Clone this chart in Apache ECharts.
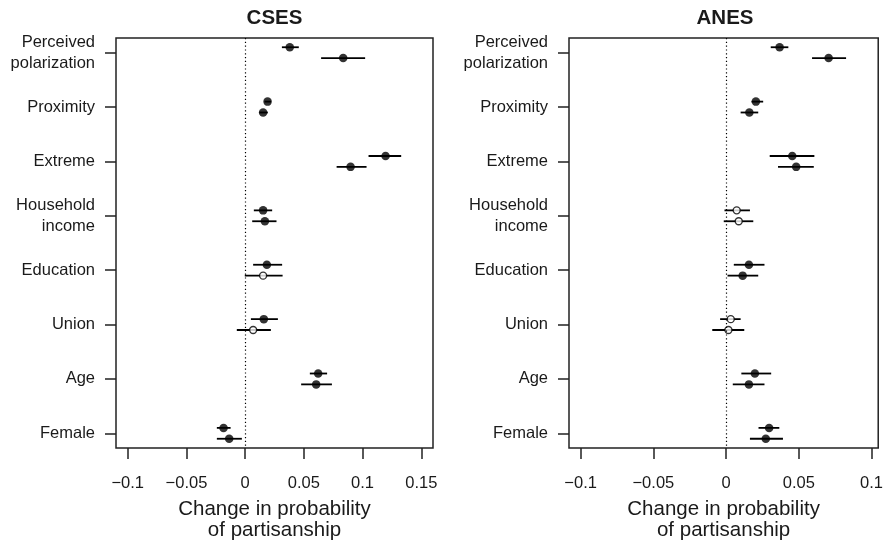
<!DOCTYPE html>
<html>
<head>
<meta charset="utf-8">
<script src="https://cdn.jsdelivr.net/npm/echarts@6/dist/echarts.min.js"></script>
<style>
html,body{margin:0;padding:0;background:#fff;}
#chart{width:886px;height:547px;}
</style>
</head>
<body>
<div id="chart"></div>
<script>
// ---- data ----
const categories = ["Perceived\npolarization", "Proximity", "Extreme", "Household\nincome", "Education", "Union", "Age", "Female"];
const panelTitles = ["CSES", "ANES"];
const xTicksCSES = [-0.1, -0.05, 0, 0.05, 0.1, 0.15];
const xTicksANES = [-0.1, -0.05, 0, 0.05, 0.1];
const axisTitle = "Change in probability\nof partisanship";

// CSES: upper estimate (first model) and lower estimate (second model)
const csesTopEst = [0.038, 0.0191, 0.1196, 0.0153, 0.0185, 0.0159, 0.0622, -0.0184];
const csesTopLo  = [0.0313, 0.0165, 0.1051, 0.0074, 0.0068, 0.0049, 0.0551, -0.0241];
const csesTopHi  = [0.0457, 0.0220, 0.1329, 0.0230, 0.0315, 0.0279, 0.0698, -0.0124];
const csesTopSig = [1, 1, 1, 1, 1, 1, 1, 1];
const csesBotEst = [0.0835, 0.0153, 0.0898, 0.0168, 0.0153, 0.0068, 0.0605, -0.0136];
const csesBotLo  = [0.0647, 0.0120, 0.0779, 0.0060, -0.0003, -0.0071, 0.0477, -0.0241];
const csesBotHi  = [0.1022, 0.0193, 0.1034, 0.0267, 0.0319, 0.0219, 0.0739, -0.0028];
const csesBotSig = [1, 1, 1, 1, 0, 0, 1, 1];

// ANES
const anesTopEst = [0.0368, 0.0205, 0.0455, 0.0073, 0.0157, 0.0032, 0.0198, 0.0296];
const anesTopLo  = [0.0307, 0.0175, 0.0300, -0.0011, 0.0053, -0.0041, 0.0105, 0.0223];
const anesTopHi  = [0.0428, 0.0255, 0.0607, 0.0164, 0.0264, 0.0100, 0.0310, 0.0366];
const anesTopSig = [1, 1, 1, 0, 1, 0, 1, 1];
const anesBotEst = [0.0705, 0.0160, 0.0482, 0.0087, 0.0114, 0.0016, 0.0157, 0.0273];
const anesBotLo  = [0.0591, 0.0100, 0.0357, -0.0016, 0.0010, -0.0095, 0.0046, 0.0164];
const anesBotHi  = [0.0825, 0.0221, 0.0603, 0.0187, 0.0221, 0.0125, 0.0264, 0.0391];
const anesBotSig = [1, 1, 1, 0, 1, 0, 1, 1];

// ---- layout / style ----
const FONT = '"Liberation Sans", Arial, Helvetica, sans-serif';
const INK = '#1a1a1a';
const OFF = 0.1; // vertical offset of the two estimates within a category
const grids = [
  {left: 116, top: 38, width: 317, height: 410},
  {left: 569, top: 38, width: 312, height: 410}
];
const xRanges = [[-0.11, 0.16], [-0.108, 0.1046]];
const xTicks = [xTicksCSES, xTicksANES];

function fmtX(v) {
  const s = String(Math.round(v * 100) / 100);
  return s.replace('-', '\u2212');
}

function ciData(est, lo, hi, off) {
  return est.map((e, i) => [lo[i], hi[i], i + off]);
}
function ptData(est, sig, off) {
  return est.map((e, i) => ({
    value: [e, i + off],
    symbolSize: sig[i] ? 8.5 : 7,
    itemStyle: sig[i]
      ? {color: '#000', borderColor: '#000', borderWidth: 0}
      : {color: '#fff', borderColor: '#000', borderWidth: 1.4}
  }));
}

const panels = [
  {top: [csesTopEst, csesTopLo, csesTopHi, csesTopSig], bot: [csesBotEst, csesBotLo, csesBotHi, csesBotSig]},
  {top: [anesTopEst, anesTopLo, anesTopHi, anesTopSig], bot: [anesBotEst, anesBotLo, anesBotHi, anesBotSig]}
];

const ciRender = function (params, api) {
  const p1 = api.coord([api.value(0), api.value(2)]);
  const p2 = api.coord([api.value(1), api.value(2)]);
  return {
    type: 'line',
    shape: {x1: p1[0], y1: p1[1], x2: p2[0], y2: p2[1]},
    style: {stroke: '#000', lineWidth: 1.8}
  };
};

const series = [];
panels.forEach((pn, k) => {
  [['top', -OFF], ['bot', OFF]].forEach(([key, off]) => {
    const [est, lo, hi, sig] = pn[key];
    series.push({
      type: 'custom', xAxisIndex: k, yAxisIndex: k,
      renderItem: ciRender, data: ciData(est, lo, hi, off),
      encode: {x: [0, 1], y: 2}, silent: true, z: 2
    });
    series.push({
      type: 'scatter', xAxisIndex: k, yAxisIndex: k,
      symbol: 'circle', data: ptData(est, sig, off), z: 3, silent: true,
      markLine: key === 'top' ? {
        silent: true, symbol: 'none', label: {show: false},
        lineStyle: {type: [1.2, 2.6], color: '#000', width: 1.2},
        data: [{xAxis: 0}], animation: false
      } : undefined
    });
  });
});

const option = {
  animation: false,
  backgroundColor: '#fff',
  textStyle: {fontFamily: FONT, color: INK},
  title: panelTitles.map((t, k) => ({
    text: t,
    left: grids[k].left + grids[k].width / 2,
    textAlign: 'center',
    top: 8,
    padding: 0,
    textStyle: {fontFamily: FONT, fontWeight: 'bold', fontSize: 20.5, color: INK}
  })),
  grid: grids.map(g => Object.assign({show: true, borderColor: '#222', borderWidth: 1.5, backgroundColor: 'transparent'}, g)),
  xAxis: [0, 1].map(k => ({
    type: 'value', gridIndex: k,
    min: xRanges[k][0], max: xRanges[k][1],
    axisLine: {show: false, onZero: false},
    splitLine: {show: false},
    axisTick: {show: true, inside: false, length: 11, customValues: xTicks[k], lineStyle: {color: '#222', width: 1.5}},
    axisLabel: {customValues: xTicks[k], formatter: fmtX, margin: 26.5, fontSize: 16.5, fontFamily: FONT, color: INK},
    name: axisTitle, nameLocation: 'middle', nameGap: 50.5,
    nameTextStyle: {fontSize: 20.5, fontFamily: FONT, color: INK, lineHeight: 21}
  })),
  yAxis: [0, 1].map(k => ({
    type: 'value', gridIndex: k, inverse: true,
    min: -0.27, max: 7.27,
    axisLine: {show: false, onZero: false},
    splitLine: {show: false},
    axisTick: {show: true, inside: false, length: 11, customValues: categories.map((c, i) => i), lineStyle: {color: '#222', width: 1.5}},
    axisLabel: {
      customValues: categories.map((c, i) => i),
      formatter: v => categories[Math.round(v)],
      margin: 21, fontSize: 16.5, lineHeight: 21, fontFamily: FONT, color: INK, align: 'right',
      padding: [4, 0, 0, 0]
    }
  })),
  series: series
};

const chart = echarts.init(document.getElementById('chart'), null, {renderer: 'canvas'});
chart.setOption(option);
</script>
</body>
</html>
